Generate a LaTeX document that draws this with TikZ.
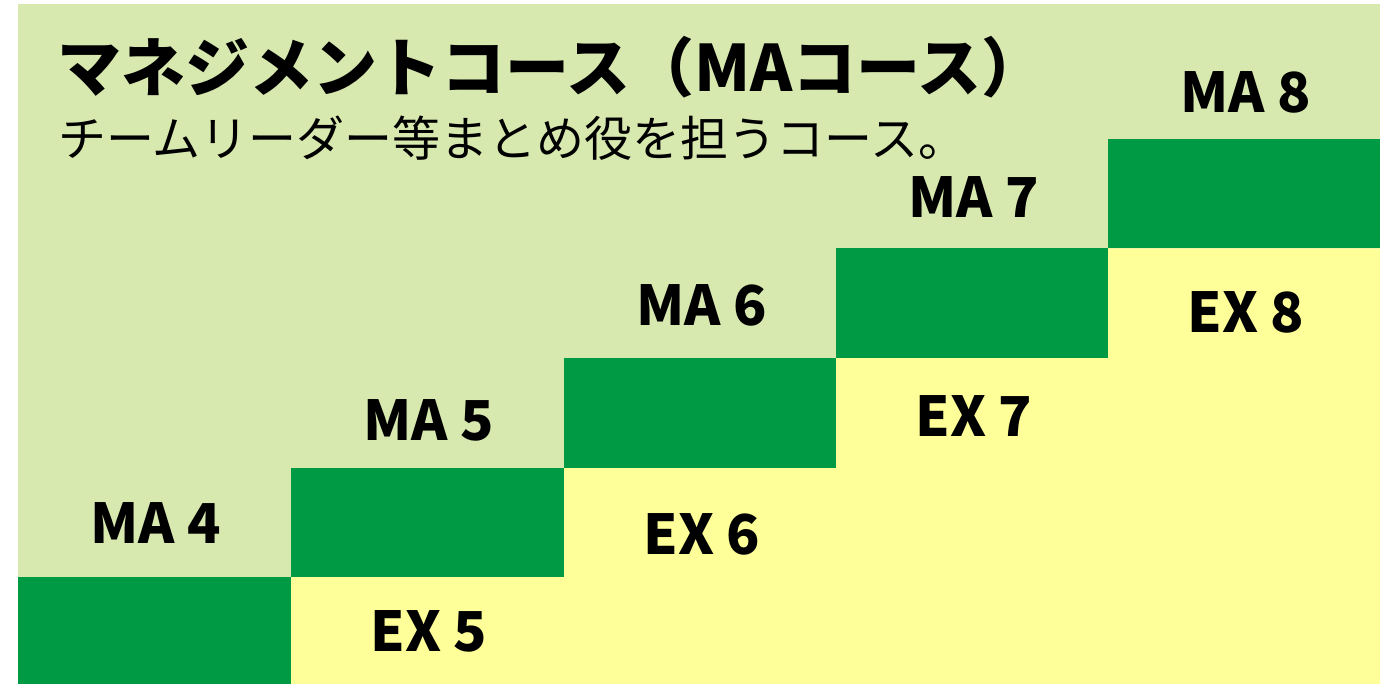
\documentclass[tikz,border=0pt]{standalone}
\usepackage{fontspec}
\setmainfont{Noto Sans CJK JP}
\usetikzlibrary{positioning}
\definecolor{palegreen}{RGB}{216,233,176}
\definecolor{deepgreen}{RGB}{0,154,68}
\definecolor{paleyellow}{RGB}{255,255,153}
\tikzset{upperzone/.style={
            fill=palegreen
        },
        lowerzone/.style={
            fill=paleyellow
        },
        stairbox/.style={
            fill=deepgreen
        },
        level/.style={
            inner sep=0pt,
            anchor=base,
            font=\fontsize{27.5pt}{30pt}\selectfont\bfseries
        },
        heading/.style={
            inner sep=0pt,
            anchor=base west,
            font=\fontsize{32pt}{34pt}\selectfont\bfseries
        },
        subheading/.style={
            inner sep=0pt,
            anchor=base west,
            font=\fontsize{24pt}{26pt}\selectfont
        }
    }

\begin{document}
\begin{tikzpicture}[x=0.5pt,y=-0.5pt]
\useasboundingbox (0,0) rectangle (1392,684);
\fill[upperzone](18,4)--(1380,4)--(1380,684)--(18,684)--cycle;
\fill[lowerzone](291,684)--(291,577)--(564,577)--(564,467.5)--(836,467.5)--(836,358)--(1108,358)--(1108,248.5)--(1380,248.5)--(1380,684)--cycle;
\fill[stairbox](18,577)--(291,577)--(291,684)--(18,684)--cycle;
\fill[stairbox](291,467.5)--(564,467.5)--(564,577)--(291,577)--cycle;
\fill[stairbox](564,358)--(836,358)--(836,467.5)--(564,467.5)--cycle;
\fill[stairbox](836,248.5)--(1108,248.5)--(1108,358)--(836,358)--cycle;
\fill[stairbox](1108,139)--(1380,139)--(1380,248.5)--(1108,248.5)--cycle;
\node[heading] (title) at (57,92) {マネジメントコース（MAコース）};
\node[subheading] (subtitle) at (58,157) {チームリーダー等まとめ役を担うコース。};
\node[level] (ma4) at (156,543) {MA 4};
\node[level] (ma5) at (429,440) {MA 5};
\node[level] (ma6) at (702,325) {MA 6};
\node[level] (ma7) at (974,218) {MA 7};
\node[level] (ma8) at (1246,113) {MA 8};
\node[level] (ex5) at (429,651) {EX 5};
\node[level] (ex6) at (702,554) {EX 6};
\node[level] (ex7) at (974,436) {EX 7};
\node[level] (ex8) at (1246,333) {EX 8};
\end{tikzpicture}
\end{document}
